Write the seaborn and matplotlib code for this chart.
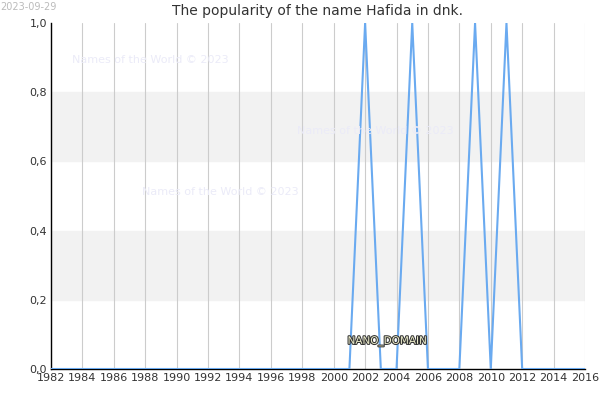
import matplotlib
matplotlib.use("Agg")
import matplotlib.pyplot as plt
import seaborn as sns
import pandas as pd

years = list(range(1982, 2017))
peak_years = [2002, 2005, 2009, 2011]
values = [1.0 if y in peak_years else 0.0 for y in years]
xticks = list(range(1982, 2017, 2))
yticks = [0.0, 0.2, 0.4, 0.6, 0.8, 1.0]
ytick_labels = ["0,0", "0,2", "0,4", "0,6", "0,8", "1,0"]

sns.set_style("white")
plt.rcParams['font.family'] = ['DejaVu Sans']
fig = plt.figure(figsize=(6, 4), dpi=100)
ax = fig.add_axes([51/600, 1-369/400, 534/600, 346/400])
for lo in (0.2, 0.6):
    ax.axhspan(lo, lo + 0.2, color="#f2f2f2", zorder=0)
for x in xticks:
    ax.axvline(x, color="#cccccc", lw=0.8, zorder=1)
df = pd.DataFrame({"year": years, "value": values})
sns.lineplot(data=df, x="year", y="value", ax=ax, color="#6aaaf0", lw=1.5, zorder=3)
ax.set_xlim(1982, 2016)
ax.set_ylim(0, 1)
ax.set_xticks(xticks)
ax.set_xticklabels([str(x) for x in xticks], fontsize=8, color="#333333")
ax.set_yticks(yticks)
ax.set_yticklabels(ytick_labels, fontsize=8, color="#333333")
ax.tick_params(length=0, pad=3)
ax.set_xlabel("")
ax.set_ylabel("")
for s in ("top", "right"):
    ax.spines[s].set_visible(False)
for s in ("left", "bottom"):
    ax.spines[s].set_color("black")
    ax.spines[s].set_linewidth(1)
ax.set_title("The popularity of the name Hafida in dnk.", fontsize=10, color="#333333", pad=6)
fig.text(0.0, 0.995, "2023-09-29", fontsize=7, color="#bbbbbb", va="top")
for (x, y) in [(150, 60), (375, 131), (220, 192)]:
    fig.text(x/600, 1-y/400, "Names of the World © 2023", fontsize=8, color="#ebebf8", ha="center", va="center")
ax.text(2003.4, 0.08, "NANO_DOMAIN", fontsize=7.5, color="#eeeecc", ha="center", va="center",
        path_effects=[__import__("matplotlib.patheffects", fromlist=["x"]).withStroke(linewidth=1.5, foreground="#333333")], zorder=5)
fig.savefig("out.png", dpi=100)
